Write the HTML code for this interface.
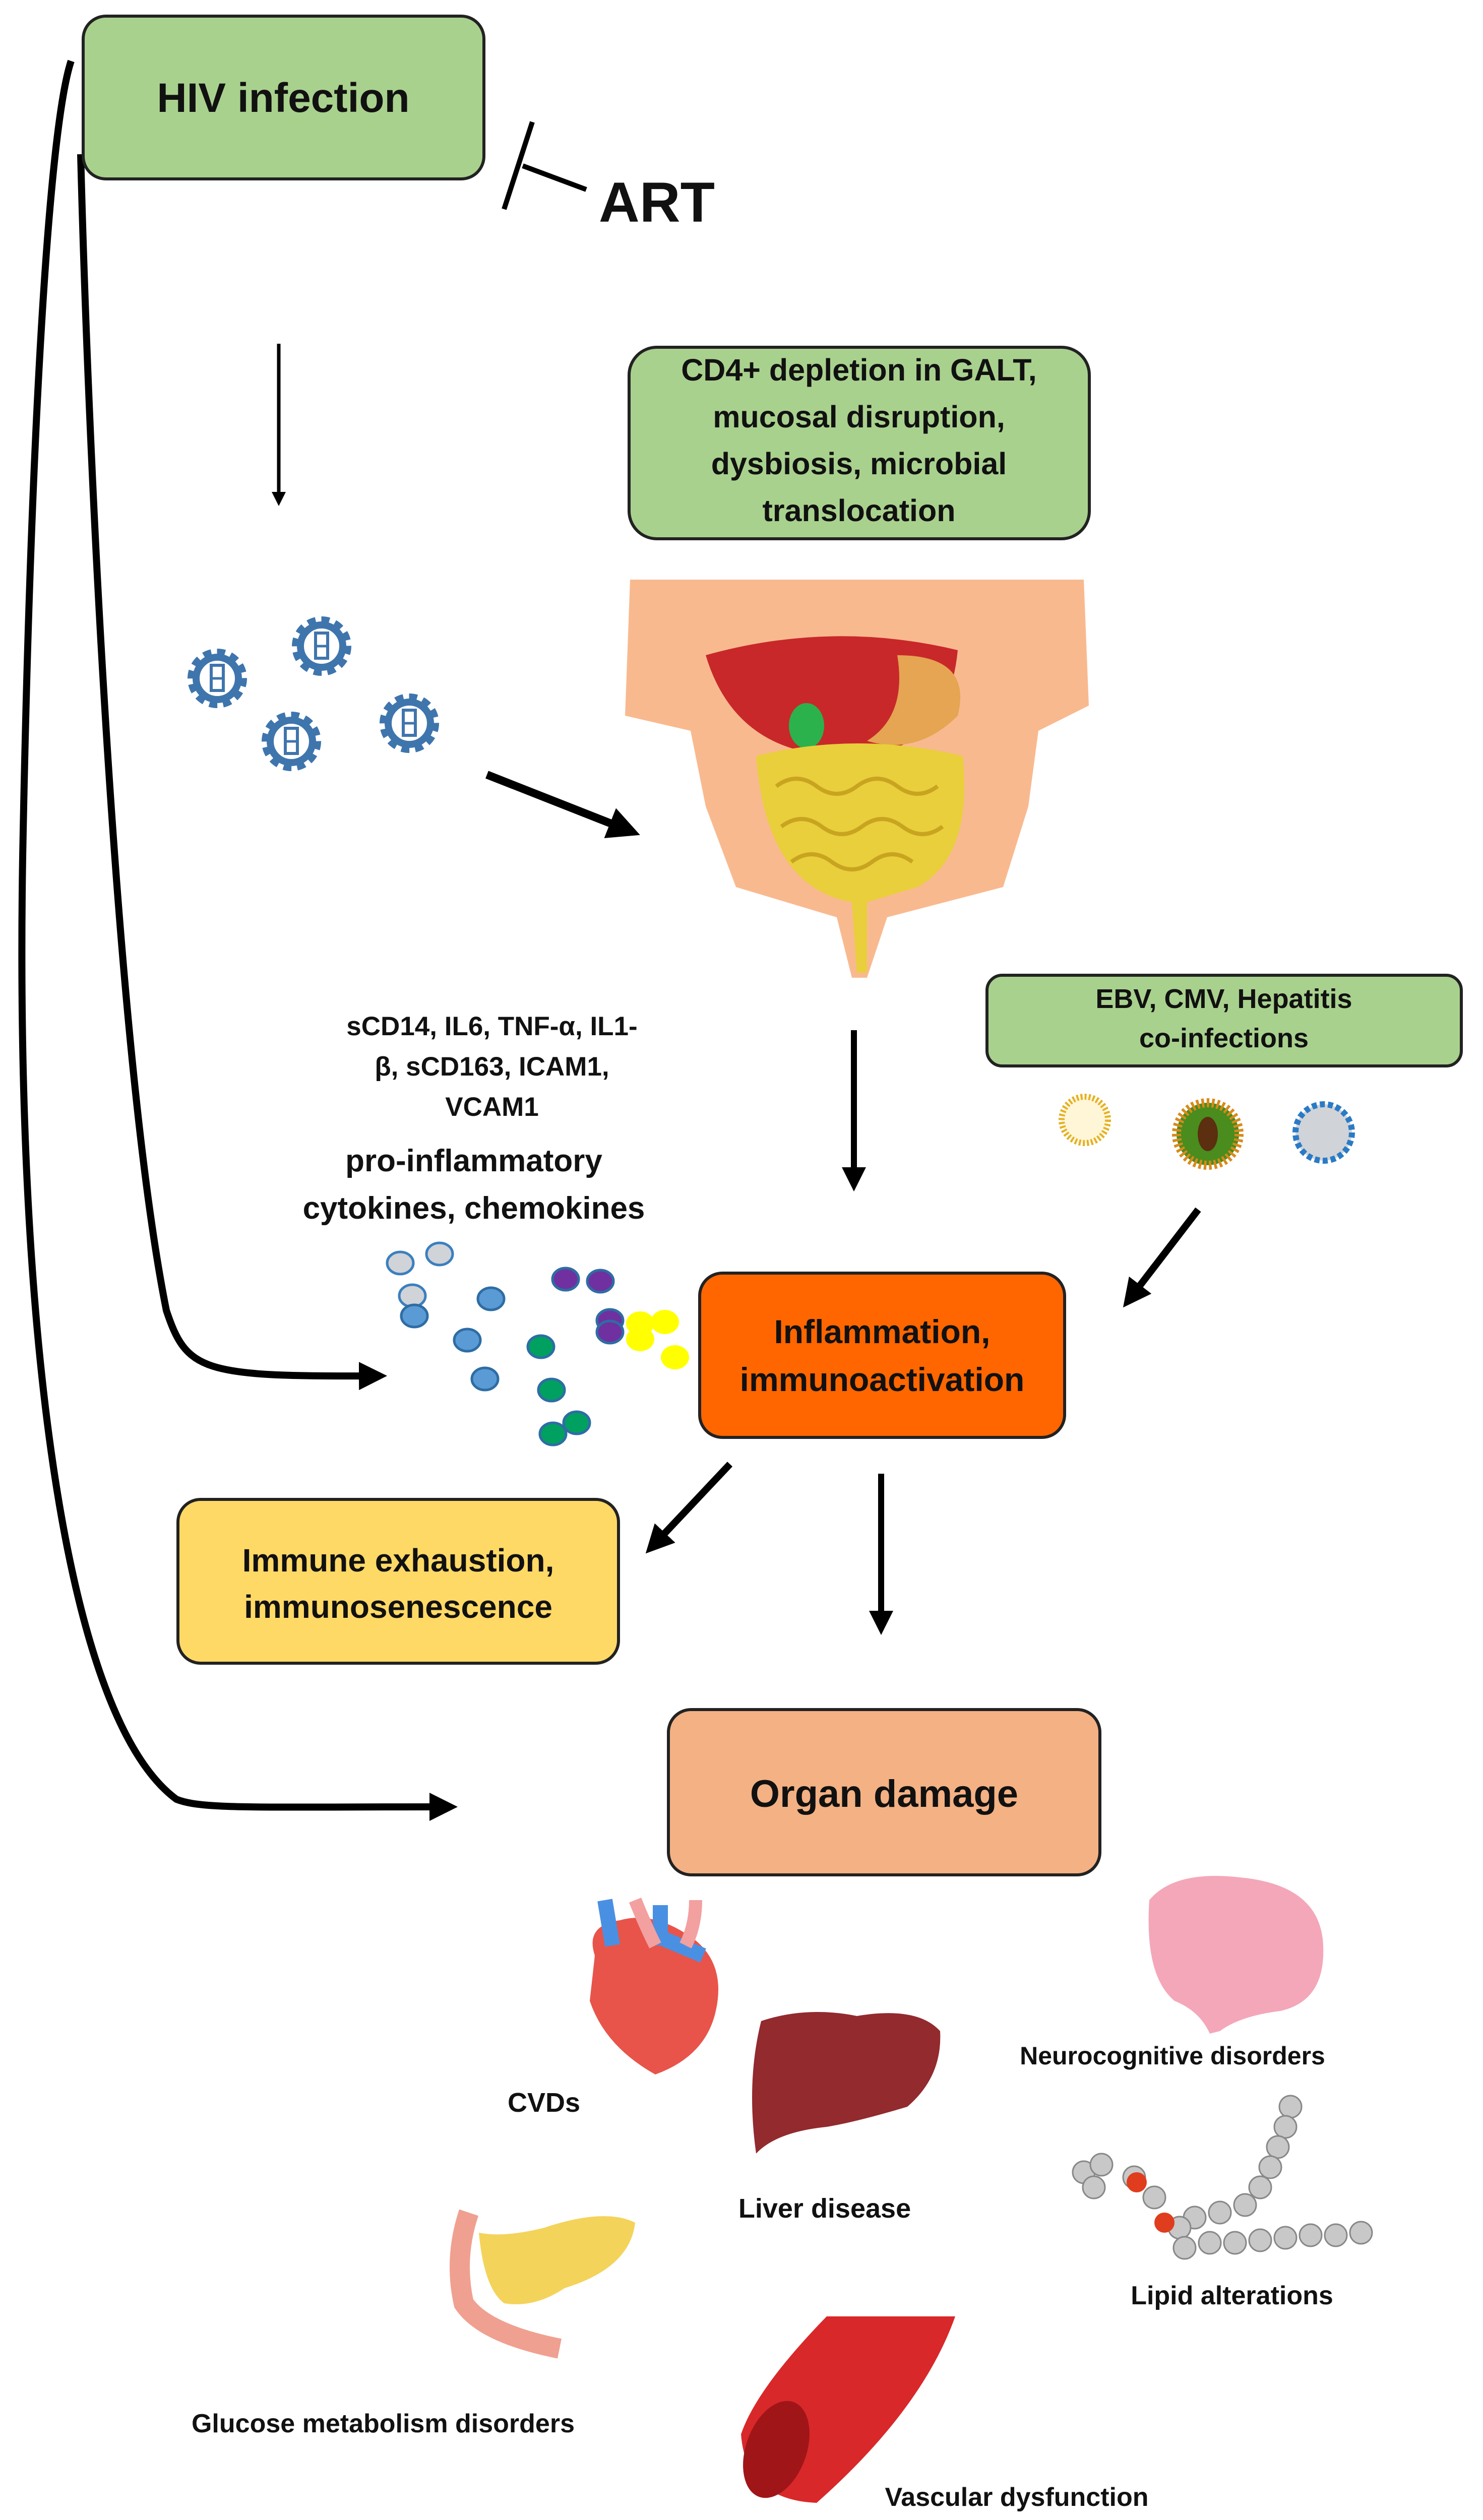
<!DOCTYPE html>
<html><head><meta charset="utf-8"><style>
html,body{margin:0;padding:0;background:#fff;width:2942px;height:5049px;overflow:hidden}
svg{display:block}
text{font-family:"Liberation Sans",sans-serif;font-weight:bold;fill:#111;text-anchor:middle}
</style></head><body>
<svg width="2942" height="5049" viewBox="0 0 2942 5049" xmlns="http://www.w3.org/2000/svg" overflow="hidden">
<defs>
<marker id="ah" markerWidth="4" markerHeight="4" refX="2" refY="2" orient="auto" markerUnits="strokeWidth"><path d="M0,0 L4,2 L0,4 z" fill="#000"/></marker>
<g id="gear"><circle r="46" fill="none" stroke="#3f75ad" stroke-width="26" stroke-dasharray="14 10"/><circle r="42" fill="#fff" stroke="#3f75ad" stroke-width="14"/><rect x="-12" y="-26" width="24" height="50" fill="none" stroke="#3f75ad" stroke-width="6"/><line x1="-12" y1="0" x2="12" y2="0" stroke="#3f75ad" stroke-width="5"/></g>
</defs>

<path d="M141,121 C95,260 60,900 45,1700 C30,2600 120,3400 350,3570 C400,3590 500,3585 880,3585" fill="none" stroke="#000" stroke-width="14" marker-end="url(#ah)"/>
<path d="M160,306 C175,900 230,2100 330,2600 C370,2720 400,2732 740,2730" fill="none" stroke="#000" stroke-width="14" marker-end="url(#ah)"/>

<rect x="165" y="32" width="795" height="323" rx="45" fill="#a9d18e" stroke="#222" stroke-width="6"/>
<text x="562" y="222" font-size="82">HIV infection</text>

<line x1="1163" y1="376" x2="1037" y2="329" stroke="#000" stroke-width="10"/>
<line x1="1056" y1="242" x2="1000" y2="415" stroke="#000" stroke-width="10"/>
<text x="1303" y="440" font-size="112">ART</text>

<line x1="553" y1="682" x2="553" y2="990" stroke="#000" stroke-width="7" marker-end="url(#ah)"/>

<rect x="1248" y="689" width="913" height="380" rx="55" fill="#a9d18e" stroke="#222" stroke-width="6"/>
<text font-size="61"><tspan x="1704" y="755">CD4+ depletion in GALT,</tspan><tspan x="1704" y="848">mucosal disruption,</tspan><tspan x="1704" y="941">dysbiosis, microbial</tspan><tspan x="1704" y="1034">translocation</tspan></text>

<use href="#gear" x="431" y="1346"/><use href="#gear" x="638" y="1282"/><use href="#gear" x="578" y="1471"/><use href="#gear" x="812" y="1435"/>

<line x1="966" y1="1537" x2="1240" y2="1645" stroke="#000" stroke-width="16" marker-end="url(#ah)"/>

<path d="M1250,1150 L2150,1150 L2160,1400 L2060,1450 L2040,1600 L1990,1760 L1760,1820 L1720,1940 L1690,1940 L1660,1820 L1460,1760 L1400,1600 L1370,1450 L1240,1420 Z" fill="#f9b98f"/>
<path d="M1400,1300 Q1650,1230 1900,1290 Q1880,1500 1680,1500 Q1460,1500 1400,1300 Z" fill="#c8282a"/>
<path d="M1780,1300 Q1930,1300 1900,1420 Q1820,1500 1720,1470 Q1800,1420 1780,1300 Z" fill="#e5a552"/>
<ellipse cx="1600" cy="1440" rx="35" ry="45" fill="#2bb24c"/>
<path d="M1500,1500 Q1700,1450 1910,1500 Q1930,1700 1820,1760 L1720,1790 L1720,1930 L1700,1930 L1690,1790 Q1520,1760 1500,1500 Z" fill="#e8cf3b"/>
<path d="M1540,1560 q40,-30 80,0 t80,0 t80,0 t80,0 M1550,1640 q40,-30 80,0 t80,0 t80,0 t80,0 M1570,1710 q40,-30 80,0 t80,0 t80,0" fill="none" stroke="#c9a420" stroke-width="8"/>

<rect x="1958" y="1935" width="941" height="180" rx="30" fill="#a9d18e" stroke="#222" stroke-width="6"/>
<text font-size="54"><tspan x="2428" y="2000">EBV, CMV, Hepatitis</tspan><tspan x="2428" y="2078">co-infections</tspan></text>

<circle cx="2152" cy="2222" r="46" fill="#fff6d8" stroke="#e6b021" stroke-width="12" stroke-dasharray="4 4"/>
<circle cx="2396" cy="2250" r="62" fill="#4a8c1e" stroke="#d88a1a" stroke-width="18" stroke-dasharray="5 5"/>
<ellipse cx="2396" cy="2250" rx="20" ry="34" fill="#5b2f10"/>
<circle cx="2626" cy="2247" r="56" fill="#d0d3d8" stroke="#2a7bc6" stroke-width="12" stroke-dasharray="10 6"/>

<text font-size="53"><tspan x="976" y="2054">sCD14, IL6, TNF-α, IL1-</tspan><tspan x="976" y="2134">β, sCD163, ICAM1,</tspan><tspan x="976" y="2214">VCAM1</tspan></text>
<text font-size="62"><tspan x="940" y="2324">pro-inflammatory</tspan><tspan x="940" y="2418">cytokines, chemokines</tspan></text>

<line x1="1694" y1="2044" x2="1694" y2="2340" stroke="#000" stroke-width="12" marker-end="url(#ah)"/>
<line x1="2377" y1="2400" x2="2245" y2="2572" stroke="#000" stroke-width="14" marker-end="url(#ah)"/>

<g stroke-width="5">
<g fill="#d0d3d8" stroke="#3b7fbf"><ellipse cx="794" cy="2506" rx="26" ry="22"/><ellipse cx="872" cy="2488" rx="26" ry="22"/><ellipse cx="818" cy="2571" rx="26" ry="22"/></g>
<g fill="#5b9bd5" stroke="#2e6da4"><ellipse cx="822" cy="2611" rx="26" ry="22"/><ellipse cx="974" cy="2577" rx="26" ry="22"/><ellipse cx="927" cy="2659" rx="26" ry="22"/><ellipse cx="962" cy="2736" rx="26" ry="22"/></g>
<g fill="#7030a0" stroke="#2e6da4"><ellipse cx="1122" cy="2538" rx="26" ry="22"/><ellipse cx="1191" cy="2542" rx="26" ry="22"/><ellipse cx="1210" cy="2620" rx="26" ry="22"/><ellipse cx="1210" cy="2643" rx="26" ry="22"/></g>
<g fill="#00a060" stroke="#2e6da4"><ellipse cx="1073" cy="2672" rx="26" ry="22"/><ellipse cx="1094" cy="2758" rx="26" ry="22"/><ellipse cx="1144" cy="2823" rx="26" ry="22"/><ellipse cx="1097" cy="2845" rx="26" ry="22"/></g>
<g fill="#ffff00" stroke="none"><ellipse cx="1270" cy="2626" rx="28" ry="24"/><ellipse cx="1319" cy="2623" rx="28" ry="24"/><ellipse cx="1270" cy="2657" rx="28" ry="24"/><ellipse cx="1339" cy="2693" rx="28" ry="24"/></g>
</g>

<rect x="1388" y="2526" width="724" height="326" rx="45" fill="#ff6600" stroke="#222" stroke-width="6"/>
<text font-size="66"><tspan x="1750" y="2665">Inflammation,</tspan><tspan x="1750" y="2760">immunoactivation</tspan></text>

<line x1="1448" y1="2905" x2="1300" y2="3062" stroke="#000" stroke-width="14" marker-end="url(#ah)"/>
<line x1="1748" y1="2924" x2="1748" y2="3220" stroke="#000" stroke-width="12" marker-end="url(#ah)"/>

<rect x="353" y="2975" width="874" height="325" rx="45" fill="#ffd966" stroke="#222" stroke-width="6"/>
<text font-size="64"><tspan x="790" y="3118">Immune exhaustion,</tspan><tspan x="790" y="3210">immunosenescence</tspan></text>

<rect x="1326" y="3392" width="856" height="328" rx="45" fill="#f4b183" stroke="#222" stroke-width="6"/>
<text x="1754" y="3585" font-size="76">Organ damage</text>

<g transform="translate(0,-20)">
<path d="M1180,3900 Q1160,3840 1230,3830 Q1300,3810 1380,3870 Q1440,3920 1420,4010 Q1400,4100 1300,4136 Q1200,4080 1170,3990 Z" fill="#e8544a"/>
<path d="M1200,3790 L1215,3880 M1300,3860 L1395,3900 M1310,3800 L1310,3880" stroke="#4a90e2" stroke-width="30" fill="none"/>
<path d="M1260,3790 Q1280,3840 1300,3880 M1380,3790 Q1380,3840 1360,3880" stroke="#f3a0a0" stroke-width="26" fill="none"/>
<path d="M1510,4030 Q1600,4000 1700,4020 Q1820,4000 1865,4050 Q1870,4140 1800,4200 Q1700,4230 1640,4240 Q1540,4250 1500,4293 Q1480,4150 1510,4030 Z" fill="#922a2e"/>
<path d="M2280,3790 Q2330,3730 2460,3745 Q2620,3760 2625,3880 Q2630,3990 2540,4010 Q2460,4020 2420,4050 L2400,4055 Q2380,4010 2330,3990 Q2270,3940 2280,3790 Z" fill="#f4a7b9"/>
<g fill="#c8c8c8" stroke="#888" stroke-width="3">
<circle cx="2150" cy="4330" r="22"/><circle cx="2185" cy="4315" r="22"/><circle cx="2170" cy="4360" r="22"/><circle cx="2250" cy="4340" r="22"/><circle cx="2290" cy="4380" r="22"/>
<circle cx="2560" cy="4200" r="22"/><circle cx="2550" cy="4240" r="22"/><circle cx="2535" cy="4280" r="22"/><circle cx="2520" cy="4320" r="22"/><circle cx="2500" cy="4360" r="22"/><circle cx="2470" cy="4395" r="22"/><circle cx="2420" cy="4410" r="22"/><circle cx="2370" cy="4420" r="22"/><circle cx="2340" cy="4440" r="22"/>
<circle cx="2350" cy="4480" r="22"/><circle cx="2400" cy="4470" r="22"/><circle cx="2450" cy="4470" r="22"/><circle cx="2500" cy="4465" r="22"/><circle cx="2550" cy="4460" r="22"/><circle cx="2600" cy="4455" r="22"/><circle cx="2650" cy="4455" r="22"/><circle cx="2700" cy="4450" r="22"/>
</g>
<circle cx="2255" cy="4350" r="20" fill="#e03c1e"/><circle cx="2310" cy="4430" r="20" fill="#e03c1e"/>
<path d="M950,4450 Q1000,4460 1080,4440 Q1200,4400 1260,4430 Q1250,4520 1120,4560 Q1060,4600 1000,4590 Q960,4560 950,4450 Z" fill="#f3d35a"/>
<path d="M930,4410 Q900,4500 920,4590 Q960,4650 1110,4680" stroke="#f0a090" stroke-width="40" fill="none"/>
<path d="M1640,4616 L1895,4616 Q1830,4800 1620,4986 Q1480,4980 1470,4850 Q1500,4760 1640,4616 Z" fill="#d8282a"/>
<ellipse cx="1540" cy="4880" rx="60" ry="100" fill="#a01518" transform="rotate(20 1540 4880)"/>
</g>

<text x="1079" y="4190" font-size="54">CVDs</text>
<text x="1636" y="4400" font-size="54">Liver disease</text>
<text x="2326" y="4096" font-size="50">Neurocognitive disorders</text>
<text x="2444" y="4572" font-size="52">Lipid alterations</text>
<text x="760" y="4826" font-size="52">Glucose metabolism disorders</text>
<text x="2017" y="4972" font-size="52">Vascular dysfunction</text>
</svg>
</body></html>
